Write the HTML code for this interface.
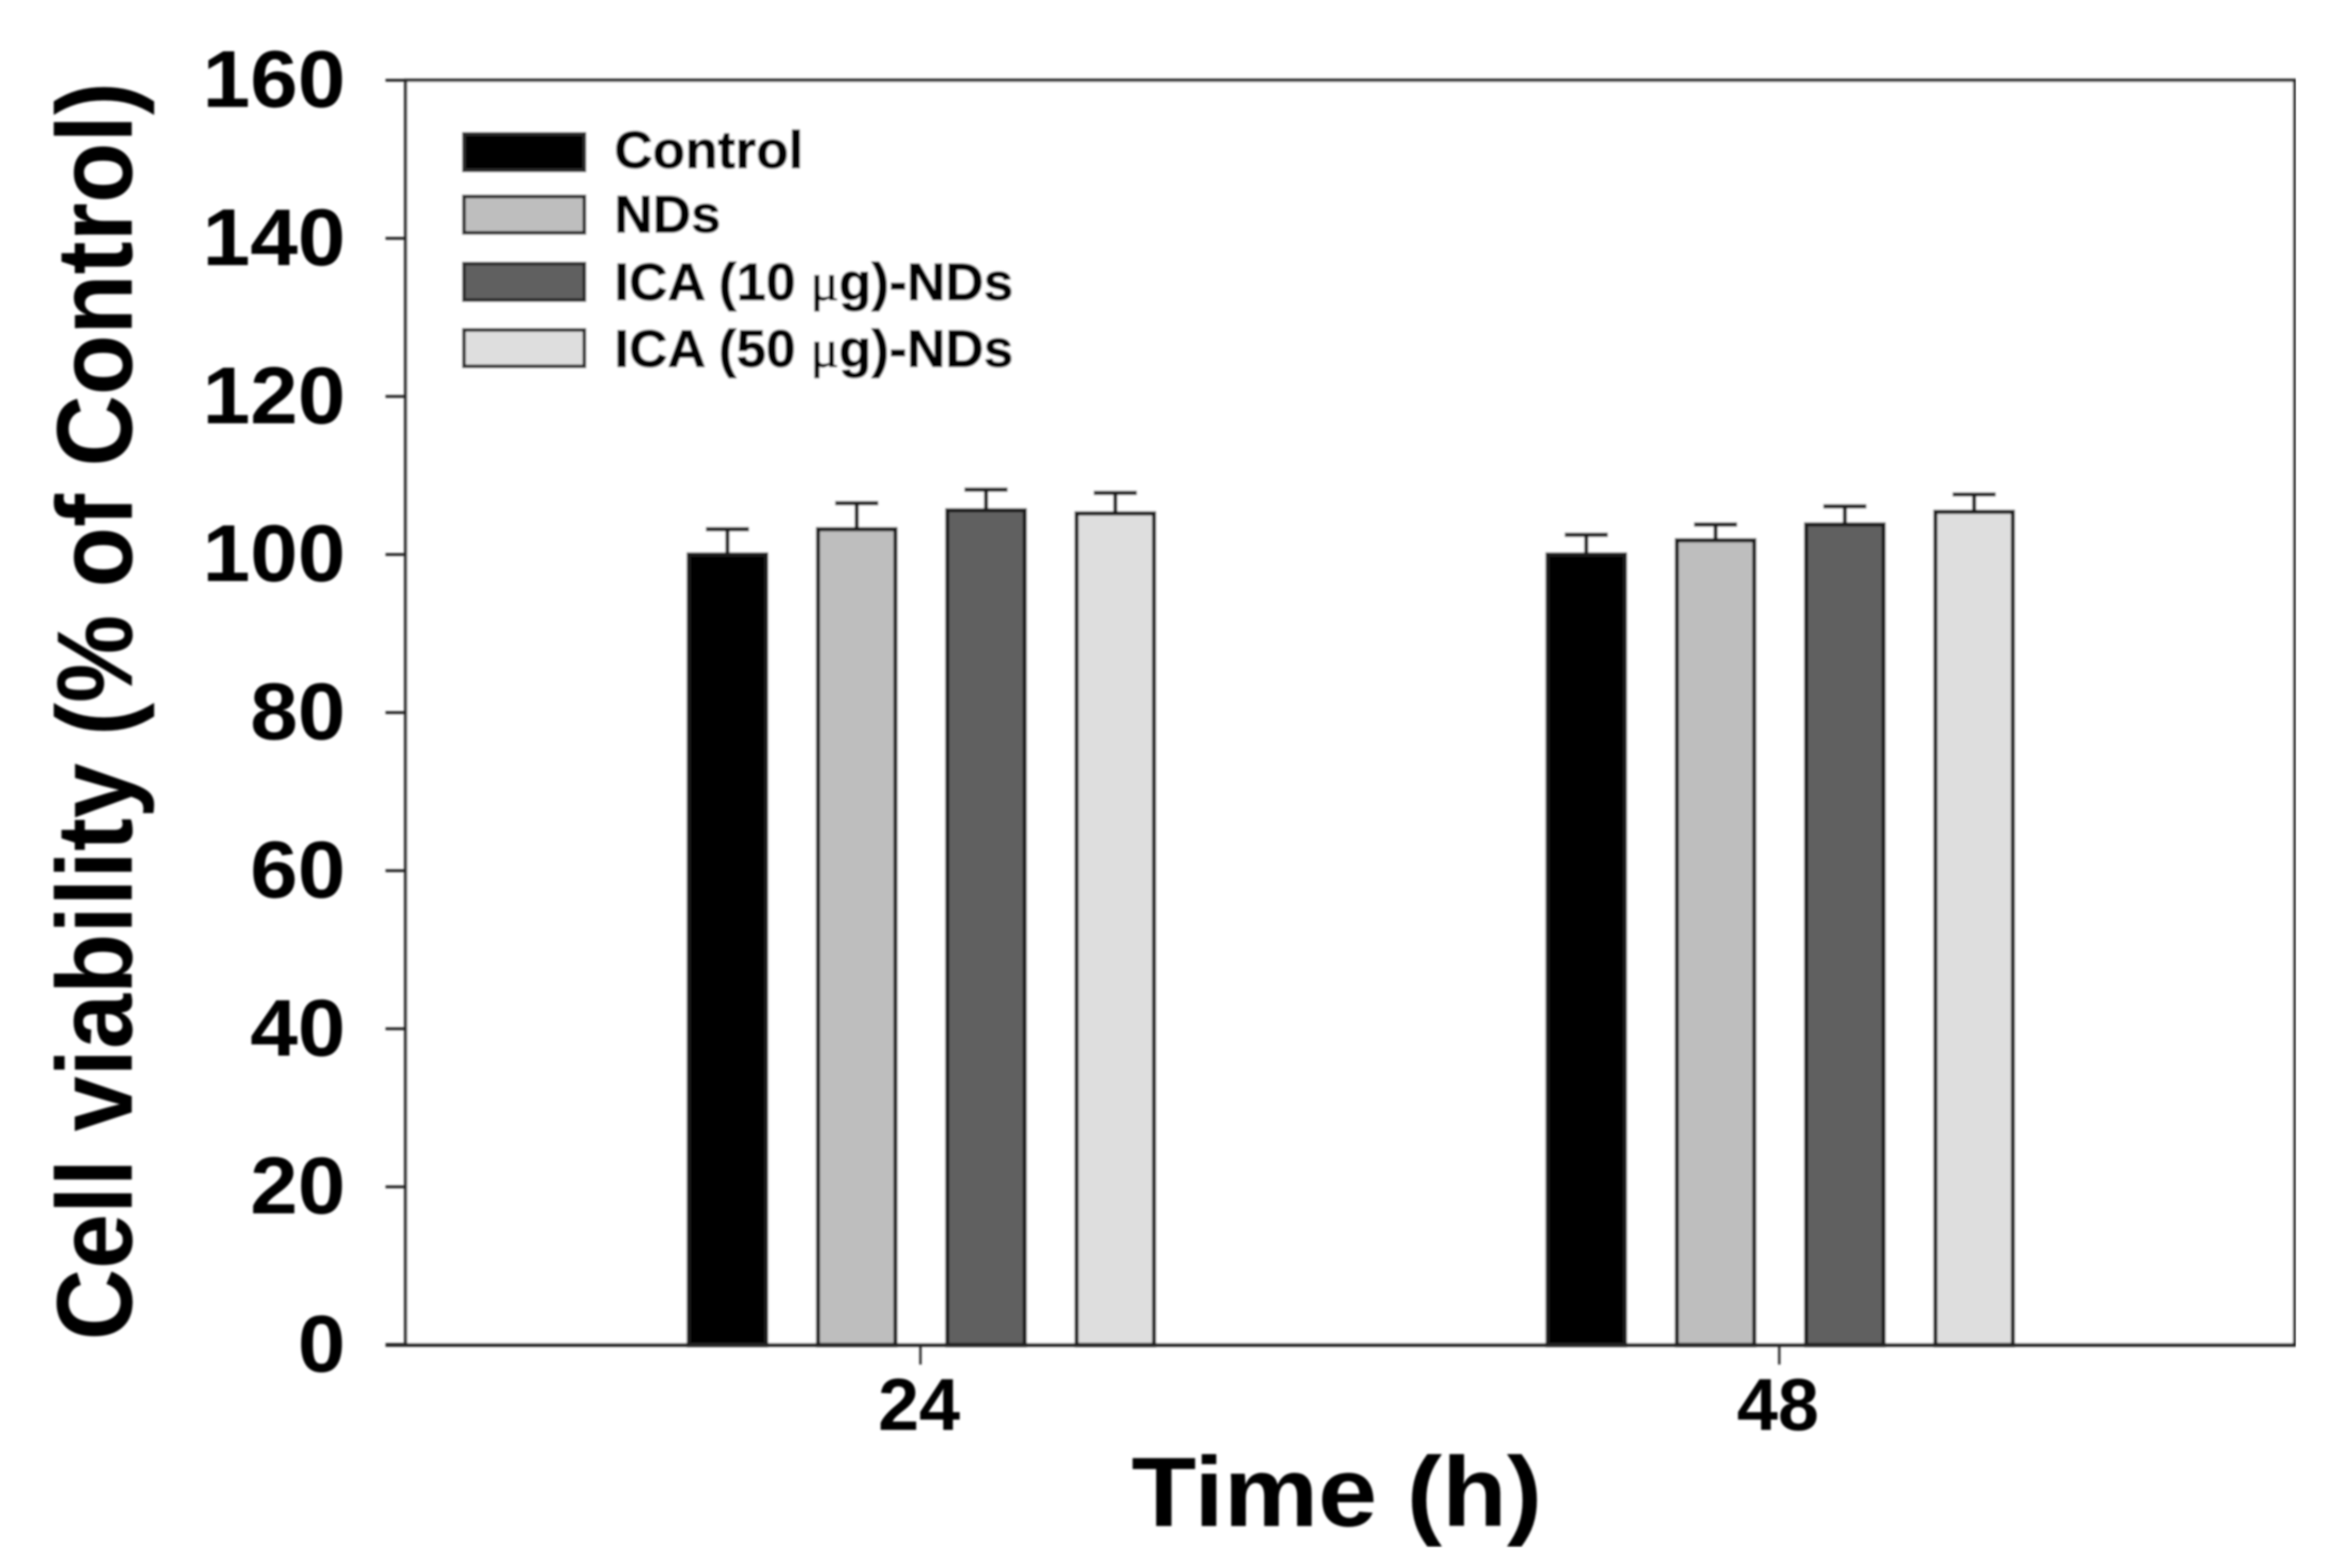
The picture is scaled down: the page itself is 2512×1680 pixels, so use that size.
<!DOCTYPE html>
<html lang="en">
<head>
<meta charset="utf-8">
<title>Cell viability chart</title>
<style>
html,body{margin:0;padding:0;background:#fff;width:2512px;height:1680px;overflow:hidden}
svg{display:block}
text{font-family:"Liberation Sans",Arial,sans-serif;font-weight:700;fill:#000}
</style>
</head>
<body>
<svg id="chart" width="2512" height="1680" viewBox="0 0 2512 1680" xmlns="http://www.w3.org/2000/svg">
  <defs><filter id="soft" x="0" y="0" width="100%" height="100%"><feGaussianBlur stdDeviation="1"/></filter></defs>
  <g id="root" filter="url(#soft)"></g>
</svg>
<script>
const timePoints = [24, 48];
const seriesNames = ["Control", "NDs", "ICA (10 μg)-NDs", "ICA (50 μg)-NDs"];
const seriesValues = [
  [100, 100],
  [103.2, 101.8],
  [105.6, 103.8],
  [105.2, 105.4]
];
const seriesErrors = [
  [3.2, 2.5],
  [3.3, 2.0],
  [2.6, 2.3],
  [2.6, 2.2]
];
const seriesFills = ["#000000", "#bebebe", "#606060", "#dedede"];
const yTicks = [0, 20, 40, 60, 80, 100, 120, 140, 160];

const root = document.getElementById('root');
const NS = 'http://www.w3.org/2000/svg';
const plot = {left: 434.5, right: 2458, top: 86, bottom: 1441};
const yScale = v => plot.bottom - (v / 160) * (plot.bottom - plot.top);
const xScale = t => 986 + (t - 24) * (920 / 24);
const BAR_W = 83, BAR_PITCH = 138.5, CAP_W = 46;

function svgEl(tag, attrs, parent) {
  const el = document.createElementNS(NS, tag);
  for (const k in attrs) el.setAttribute(k, attrs[k]);
  (parent || root).appendChild(el);
  return el;
}

// frame
const frame = svgEl('rect', {x: plot.left, y: plot.top, width: plot.right - plot.left, height: plot.bottom - plot.top, fill: '#fff', stroke: '#2b2b2b', 'stroke-width': 3.5});



// y ticks & labels
yTicks.forEach(v => {
  const y = yScale(v);
  const tick = svgEl('line', {x1: 413, x2: plot.left, y1: y, y2: y, stroke: '#222', 'stroke-width': 3});
  
  
  const digits = String(v).length;
  const label = svgEl('text', {x: 370, y: y + 28.5, 'text-anchor': 'end', 'font-size': 86, textLength: 51 * digits, lengthAdjust: 'spacingAndGlyphs'});
  label.textContent = v;
  
  
});

// bars
timePoints.forEach((t, gi) => {
  const cx0 = xScale(t);
  seriesValues.forEach((vals, si) => {
    const cx = cx0 + (si - 1.5) * BAR_PITCH + 1;
    const top = yScale(vals[gi]);
    const errTop = yScale(vals[gi] + seriesErrors[si][gi]);
    const stem = svgEl('line', {x1: cx, x2: cx, y1: top, y2: errTop, stroke: '#1a1a1a', 'stroke-width': 4.5});
    
    
    const cap = svgEl('line', {x1: cx - CAP_W / 2, x2: cx + CAP_W / 2, y1: errTop, y2: errTop, stroke: '#1a1a1a', 'stroke-width': 4.5});
    
    
    const bar = svgEl('rect', {x: cx - BAR_W / 2, y: top, width: BAR_W, height: plot.bottom - top, fill: seriesFills[si], stroke: '#1a1a1a', 'stroke-width': 4.5});
    
    
  });
  const xt = svgEl('line', {x1: cx0, x2: cx0, y1: plot.bottom, y2: 1462, stroke: '#222', 'stroke-width': 2.5});
  
  
  const xl = svgEl('text', {x: cx0 - 1.5, y: 1532, 'text-anchor': 'middle', 'font-size': 79});
  xl.textContent = t;
  
  
});

// bottom axis drawn on top of bars
const axisLine = svgEl('line', {x1: 413, x2: plot.right + 1.5, y1: plot.bottom, y2: plot.bottom, stroke: '#222', 'stroke-width': 4});



// legend
const legendSwatchY = [143.5, 210.5, 282.5, 353.5];
const legendBaseY = [180, 249, 321.5, 393];
seriesNames.forEach((name, i) => {
  const sw = svgEl('rect', {x: 497, y: legendSwatchY[i], width: 129, height: 39, fill: seriesFills[i], stroke: '#2a2a2a', 'stroke-width': 4});
  
  
  const tx = svgEl('text', {x: 658, y: legendBaseY[i], 'font-size': 57, stroke: '#000', 'stroke-width': 0.8});
  
  
  const muAt = name.indexOf('μ');
  if (muAt >= 0) {
    tx.appendChild(document.createTextNode(name.slice(0, muAt)));
    const mu = svgEl('tspan', {style: 'font-family:"Liberation Serif",serif;font-weight:400'}, tx);
    mu.textContent = 'μ';
    tx.appendChild(document.createTextNode(name.slice(muAt + 1)));
  } else {
    tx.textContent = name;
  }
});

// axis titles
const xTitle = svgEl('text', {x: 1212, y: 1635, 'font-size': 106, textLength: 440, lengthAdjust: 'spacingAndGlyphs'});
xTitle.textContent = 'Time (h)';



const yTitle = svgEl('text', {transform: 'translate(141,1436) rotate(-90) scale(1,1.1)', 'font-size': 105, textLength: 1348, lengthAdjust: 'spacingAndGlyphs'});
yTitle.textContent = 'Cell viability (% of Control)';


</script>
</body>
</html>
